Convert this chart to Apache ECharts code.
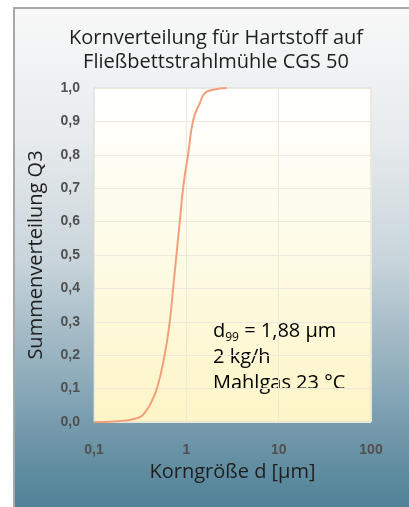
<!DOCTYPE html>
<html>
<head>
<meta charset="utf-8">
<script src="https://cdn.jsdelivr.net/npm/echarts@6/dist/echarts.min.js"></script>
<style>
  html, body { margin: 0; padding: 0; background: #ffffff; }
  .panel {
    position: absolute; left: 13px; top: 7px; width: 396px; height: 500px;
    border-left: 2px solid #a8a8a8; border-top: 2px solid #a8a8a8;
    background: linear-gradient(to bottom, #f8f8f8 0%, #e8ecee 25%, #c9d5db 50%, #93afbd 72%, #6a93a6 88%, #4f8197 100%);
  }
  #main { position: absolute; left: 0; top: 0; width: 409px; height: 507px; }
</style>
</head>
<body>
<div class="panel"></div>
<div id="main"></div>
<script>
// Korngröße d [µm] und Summenverteilung Q3
var groessen = [0.1, 0.15, 0.2, 0.25, 0.315, 0.36, 0.41, 0.486, 0.586, 0.664, 0.722, 0.785, 0.853, 0.927, 1.05, 1.19, 1.40, 1.59, 1.95, 2.75];
var summe = [0, 0.001, 0.003, 0.007, 0.015, 0.03, 0.055, 0.105, 0.205, 0.305, 0.405, 0.505, 0.605, 0.705, 0.805, 0.905, 0.955, 0.985, 0.995, 1.0];
var xTicks = ['0,1', '1', '10', '100'];

var daten = groessen.map(function (g, i) { return [g, summe[i]]; });

var chart = echarts.init(document.getElementById('main'));
chart.setOption({
  backgroundColor: 'transparent',
  title: {
    text: 'Kornverteilung für Hartstoff auf\nFließbettstrahlmühle CGS 50',
    left: 211,
    top: 21,
    textAlign: 'center',
    textStyle: {
      fontFamily: 'Open Sans',
      fontSize: 20,
      fontWeight: 'normal',
      color: '#1e1e1e',
      lineHeight: 24,
    },
  },
  grid: {
    left: 94,
    right: 38,
    top: 88,
    bottom: 85,
    show: true,
    borderColor: '#d8d8d0',
    borderWidth: 1,
    backgroundColor: new echarts.graphic.LinearGradient(0, 0, 0, 1, [
      { offset: 0, color: '#ffffff' },
      { offset: 0.5, color: '#fefbe6' },
      { offset: 1, color: '#fdf5c6' },
    ]),
  },
  xAxis: {
    type: 'log',
    logBase: 10,
    min: 0.1,
    max: 100,
    name: 'Korngröße d [µm]',
    nameLocation: 'middle',
    nameGap: 40,
    nameTextStyle: { fontFamily: 'Open Sans', fontSize: 20, color: '#1e1e1e' },
    axisLine: { show: false },
    axisTick: { show: false },
    axisLabel: {
      margin: 21,
      fontFamily: 'Liberation Sans',
      fontWeight: 'bold',
      fontSize: 14,
      color: '#505050',
      formatter: function (v) {
        var i = Math.round(Math.log10(v)) + 1;
        return xTicks[i] !== undefined ? xTicks[i] : '';
      },
    },
    splitLine: { show: true, lineStyle: { color: '#ece9dc', width: 1 } },
  },
  yAxis: {
    type: 'value',
    min: 0,
    max: 1,
    interval: 0.1,
    name: 'Summenverteilung Q3',
    nameLocation: 'middle',
    nameGap: 48,
    nameTextStyle: { fontFamily: 'Open Sans', fontSize: 20, color: '#1e1e1e' },
    axisLine: { show: false },
    axisTick: { show: false },
    axisLabel: {
      margin: 14,
      fontFamily: 'Liberation Sans',
      fontWeight: 'bold',
      fontSize: 14,
      color: '#505050',
      formatter: function (v) { return v.toFixed(1).replace('.', ','); },
    },
    splitLine: { show: true, lineStyle: { color: '#ece9dc', width: 1 } },
  },
  graphic: [
    {
      type: 'text',
      left: 213,
      top: 321,
      style: {
        text: '{n|d}{s|99}{n| = 1,88 µm}\n{n|2 kg/h}\n{n|Mahlgas 23 °C}',
        rich: {
          n: { fontFamily: 'Open Sans', fontSize: 20, color: '#1e1e1e', lineHeight: 26 },
          s: { fontFamily: 'Open Sans', fontSize: 12, color: '#1e1e1e', lineHeight: 6, verticalAlign: 'bottom' },
        },
      },
    },
  ],
  series: [
    {
      type: 'line',
      data: daten,
      smooth: 0.5,
      showSymbol: false,
      lineStyle: { color: '#f2a07c', width: 2 },
    },
  ],
});
</script>
</body>
</html>
